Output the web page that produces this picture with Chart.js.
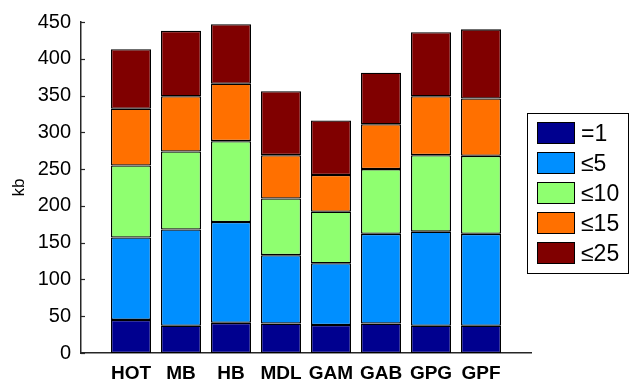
<!DOCTYPE html>
<html>
<head>
<meta charset="utf-8">
<script src="https://cdn.jsdelivr.net/npm/chart.js@4"></script>
<style>
html,body{margin:0;padding:0;background:#fff;}
#wrap{width:630px;height:381px;}
</style>
</head>
<body>
<div id="wrap"><canvas id="c" width="630" height="381"></canvas></div>
<script>
const categories = ['HOT','MB','HB','MDL','GAM','GAB','GPG','GPF'];
const seriesLabels = ['=1','\u22645','\u226410','\u226415','\u226425'];
const seriesColors = ['#00008F','#008FFF','#8FFF70','#FF7000','#800000'];
const eq1  = [45,37,41,40,38,40,37,37];
const le5  = [112,131,137,93,84,122,128,125];
const le10 = [98,106,110,77,70,88,104,106];
const le15 = [77,75,78,59,50,61,80,78];
const le25 = [81,89,81,87,74,70,87,94];
const yTickValues = [0,50,100,150,200,250,300,350,400,450];
const seriesValues = [eq1, le5, le10, le15, le25];

const FONT = '"Liberation Sans", Arial, Helvetica, sans-serif';

const datasets = seriesValues.map((vals, si) => ({
  label: seriesLabels[si],
  data: vals.map((v, i) => ({x: i + 1, y: v})),
  backgroundColor: seriesColors[si],
  borderColor: '#000',
  borderWidth: 1.3,
  borderSkipped: false,
  barPercentage: 0.8,
  categoryPercentage: 1.0
}));

const extras = {
  id: 'extras',
  afterDraw(chart) {
    const ctx = chart.ctx;
    const y = chart.scales.y;
    const area = chart.chartArea;
    ctx.save();
    // inward y ticks
    ctx.strokeStyle = '#262626';
    ctx.lineWidth = 1.2;
    yTickValues.forEach(v => {
      const py = Math.round(y.getPixelForValue(v)) + 0.5;
      ctx.beginPath();
      ctx.moveTo(area.left, py);
      ctx.lineTo(area.left + 4, py);
      ctx.stroke();
    });
    // legend
    const lx = 527.5, ly = 113.5, lw = 101, lh = 160;
    ctx.fillStyle = '#fff';
    ctx.fillRect(lx, ly, lw, lh);
    ctx.strokeStyle = '#000';
    ctx.lineWidth = 1;
    ctx.strokeRect(lx, ly, lw, lh);
    ctx.font = '23px ' + FONT;
    ctx.textBaseline = 'alphabetic';
    ctx.textAlign = 'left';
    chart.data.datasets.forEach((ds, i) => {
      const sy = 122 + i * 30;
      ctx.fillStyle = ds.backgroundColor;
      ctx.fillRect(537, sy, 38, 22);
      ctx.strokeStyle = '#000';
      ctx.strokeRect(537.5, sy + 0.5, 37, 21);
      ctx.fillStyle = '#000';
      ctx.fillText(ds.label, 581, sy + 11 + 8.3);
    });
    ctx.restore();
  }
};

new Chart(document.getElementById('c'), {
  type: 'bar',
  data: { datasets },
  options: {
    responsive: false,
    animation: false,
    layout: { padding: { top: 20, right: 99, left: 0, bottom: 0 } },
    plugins: { legend: { display: false }, tooltip: { enabled: false } },
    scales: {
      x: {
        type: 'linear',
        stacked: true,
        offset: false,
        min: 0, max: 9,
        grid: { display: false, drawTicks: false, offset: false },
        border: { display: true, color: '#262626', width: 1.5 },
        afterBuildTicks(scale) {
          scale.ticks = categories.map((c, i) => ({ value: i + 1 }));
        },
        afterFit(scale) { scale.height = 28; },
        ticks: {
          autoSkip: false, maxRotation: 0, padding: 9,
          color: '#000',
          font: { family: FONT, size: 19, weight: 'bold' },
          callback: (v) => categories[v - 1] || ''
        }
      },
      y: {
        stacked: true,
        min: 0, max: 450,
        grid: { display: false, drawTicks: false },
        border: { display: true, color: '#262626', width: 1.5 },
        afterBuildTicks(scale) {
          scale.ticks = yTickValues.map(v => ({ value: v }));
        },
        afterFit(scale) { scale.width = 81; },
        title: {
          display: true, text: 'kb', color: '#000',
          font: { family: FONT, size: 17 },
          padding: { top: 9, bottom: 0 }
        },
        ticks: {
          padding: 10, color: '#000',
          font: { family: FONT, size: 20 }
        }
      }
    }
  },
  plugins: [extras]
});
</script>
</body>
</html>
